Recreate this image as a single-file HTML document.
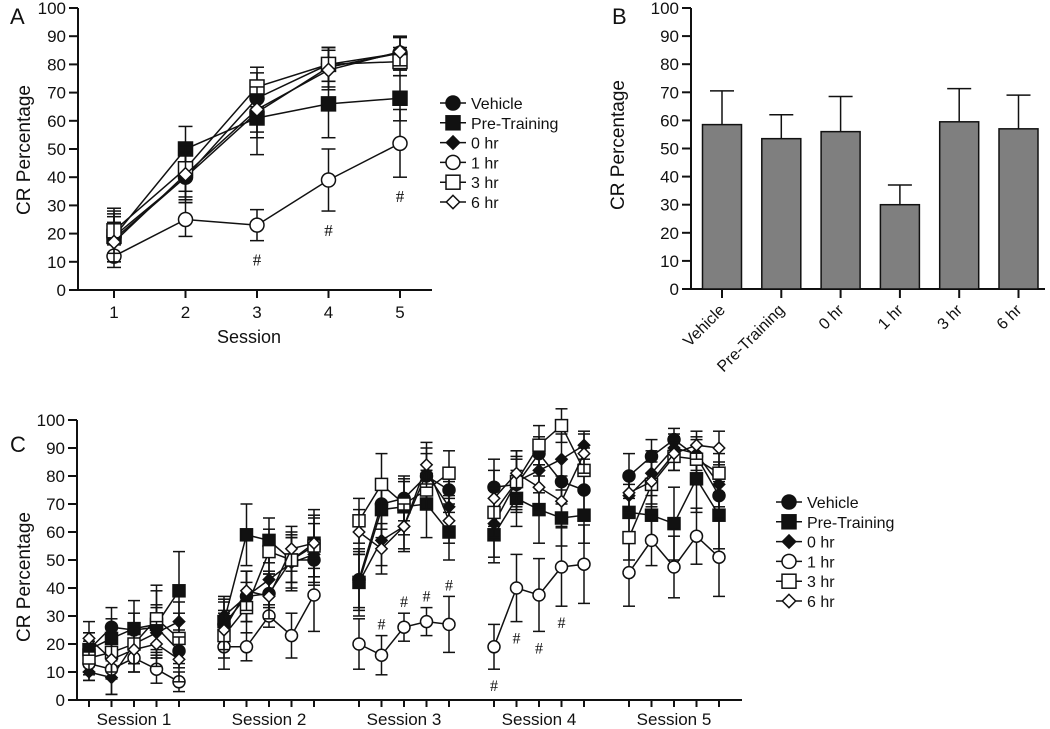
<!DOCTYPE html>
<html><head><meta charset="utf-8"><style>
html,body{margin:0;padding:0;background:#fff;}
svg{display:block;font-family:"Liberation Sans",Arial,sans-serif;}
</style></head><body>
<svg id="fig" width="1050" height="729" viewBox="0 0 1050 729" xmlns="http://www.w3.org/2000/svg"></svg>
<script>
// ---------- Data ----------
const seriesNames = ["Vehicle","Pre-Training","0 hr","1 hr","3 hr","6 hr"];
const markerTypes = ["circleF","squareF","diamondF","circleO","squareO","diamondO"];
const sessionsA = [1,2,3,4,5];
const aVehicle = [19,40,68,80,84];
const aPre     = [19,50,61,66,68];
const a0hr     = [18,40,63,79,84];
const a1hr     = [12,25,23,39,52];
const a3hr     = [21,43,72,80,81];
const a6hr     = [17,41,64,78,84.5];
const eVehicle = [8,9,9,6,6];
const ePre     = [9,8,13,12,8];
const e0hr     = [8,8,9,7,6];
const e1hr     = [4,6,5.5,11,12];
const e3hr     = [8,8,7,6,5];
const e6hr     = [7,8,8,7,5];
const hashA = [3,4,5];

const barCats = ["Vehicle","Pre-Training","0 hr","1 hr","3 hr","6 hr"];
const barVals = [58.5,53.5,56,30,59.5,57];
const barErr  = [12,8.5,12.5,7,11.8,12];

const sessionLabels = ["Session 1","Session 2","Session 3","Session 4","Session 5"];
const cVehicle = [18,26,25,26,17.5, 27,37,38,50,50, 43,70,72,80,75, 76,77,88,78,75, 80,87,93,87,73];
const cPre     = [18,22,25.5,27,39, 28,59,57,50,56, 42,68,69,70,60, 59,72,68,65,66, 67,66,63,79,66];
const c0hr     = [10,8,20,24,28, 30,37,43,49,52, 42,57,62,81,69, 63,78,82,86,91, 73,81,90,88,77];
const c1hr     = [13,11,15,11,6.5, 19,19,30,23,37.5, 20,16,26,28,27, 19,40,37.5,47.5,48.5, 45.5,57,47.5,58.5,51];
const c3hr     = [15,17,20,29,22, 23,33,53,50,55, 64,77,70,75,81, 67,78,91,98,82, 58,77,87,86,81];
const c6hr     = [22,14.5,18,20,14.5, 25,39,37,54,56, 60,54,62,84,64, 72,81,76,71,88, 74,78,88,91,90];
const ceVehicle= [6,7,6,8,6, 8,9,8,8,8, 10,9,8,8,8, 10,9,6,8,8, 8,6,4,6,8];
const cePre    = [6,7,10,12,14, 8,11,8,10,12, 12,10,10,12,10, 10,10,12,10,10, 10,10,13,12,12];
const ce0hr    = [3,6,7,9,7, 7,9,10,10,11, 10,9,9,9,9, 12,9,8,9,5, 8,8,5,6,8];
const ce1hr    = [6,9,5,5,3.5, 8,5,4,8,13, 9,7,5,5,10, 8,12,13,14,14, 12,9,11,10,14];
const ce3hr    = [6,7,7,12,9, 8,9,8,8,11, 8,11,8,7,8, 9,11,7,6,8, 8,8,5,5,7];
const ce6hr    = [6,7,8,8,8, 7,7,8,8,9, 8,9,8,8,8, 10,8,8,9,7, 7,8,6,5,6];
const hashC = [[2,1],[2,2],[2,3],[2,4],[3,0],[3,1],[3,2],[3,3]];

// ---------- helpers ----------
const NS="http://www.w3.org/2000/svg";
const svg=document.getElementById('fig');
function mk(tag,attrs,parent){const e=document.createElementNS(NS,tag);for(const k in attrs)e.setAttribute(k,attrs[k]);(parent||svg).appendChild(e);return e;}
function txt(x,y,s,size,anchor,parent,extra){const t=mk('text',Object.assign({x:x,y:y,'font-size':size,'text-anchor':anchor||'middle',fill:'#111'},extra||{}),parent);t.textContent=s;return t;}
function marker(g,type,x,y,s){
  const fill=type.endsWith('F')?'#111':'#fff';
  let e;
  if(type.startsWith('circle')) e=mk('circle',{cx:x,cy:y,r:s,fill:fill,stroke:'#111','stroke-width':1.5},g);
  else if(type.startsWith('square')) e=mk('rect',{x:x-s,y:y-s,width:2*s,height:2*s,fill:fill,stroke:'#111','stroke-width':1.5},g);
  else { const d=s*0.95; e=mk('polygon',{points:`${x},${y-d} ${x+d},${y} ${x},${y+d} ${x-d},${y}`,fill:fill,stroke:'#111','stroke-width':1.5},g); }
  return e;
}
function yAxis(g,x,yf,tickLen){
  mk('line',{x1:x,y1:yf(0),x2:x,y2:yf(100),stroke:'#111','stroke-width':2},g);
  for(let v=0;v<=100;v+=10){
    mk('line',{x1:x-tickLen,y1:yf(v),x2:x,y2:yf(v),stroke:'#111','stroke-width':2},g);
    txt(x-tickLen-3,yf(v)+6,String(v),17,'end',g);
  }
}
function drawSeries(g,xs,vals,errs,type,yf,ms,cap,groupSize){
  const s=mk('g',{},g);
  
  
  let d='';
  vals.forEach((v,i)=>{ const start = i===0 || (groupSize && i%groupSize===0); d+=(start?' M':' L')+xs[i]+','+yf(v);});
  mk('path',{d:d.trim(),fill:'none',stroke:'#111','stroke-width':1.5},s);
  vals.forEach((v,i)=>{
    const x=xs[i],y1=yf(v+errs[i]),y2=yf(v-errs[i]);
    mk('line',{x1:x,y1:y1,x2:x,y2:y2,stroke:'#111','stroke-width':1.5},s);
    mk('line',{x1:x-cap,y1:y1,x2:x+cap,y2:y1,stroke:'#111','stroke-width':1.5},s);
    mk('line',{x1:x-cap,y1:y2,x2:x+cap,y2:y2,stroke:'#111','stroke-width':1.5},s);
  });
  vals.forEach((v,i)=>{ const m=marker(s,type,xs[i],yf(v),ms);
    
    
  });
}
function legend(g,x,y0,step){
  seriesNames.forEach((n,i)=>{
    const e=mk('g',{},g);
    
    
    const y=y0+i*step;
    mk('line',{x1:x-13,y1:y,x2:x+13,y2:y,stroke:'#111','stroke-width':1.5},e);
    marker(e,markerTypes[i],x,y,7);
    txt(x+18,y+6,n,16,'start',e);
  });
}

// ---------- Panel A ----------
const gA=mk('g',{});  
const yA=v=>290-v*2.82;
const xA=s=>114+(s-1)*71.5;
txt(10,24,'A',22,'start',gA);
yAxis(gA,78,yA,9);
mk('line',{x1:70,y1:290,x2:432,y2:290,stroke:'#111','stroke-width':2},gA);
sessionsA.forEach(s=>{mk('line',{x1:xA(s),y1:290,x2:xA(s),y2:298,stroke:'#111','stroke-width':2},gA);txt(xA(s),318,String(s),17,'middle',gA);});
const xlA=txt(249,343,'Session',18,'middle',gA);  
const ylA=txt(0,0,'CR Percentage',19,'middle',gA,{transform:'translate(30,150) rotate(-90)'});  
const xsA=sessionsA.map(xA);
const aVals=[aVehicle,aPre,a0hr,a1hr,a3hr,a6hr], aErr=[eVehicle,ePre,e0hr,e1hr,e3hr,e6hr];
aVals.forEach((v,i)=>drawSeries(gA,xsA,v,aErr[i],markerTypes[i],yA,7,7,0));
hashA.forEach(s=>{const i=s-1;const t=txt(xA(s),yA(a1hr[i]-e1hr[i])+25,'#',17,'middle',gA,{'font-family':'Liberation Serif, serif'});});
const lgA=mk('g',{},gA);  
legend(lgA,453,103,19.8);

// ---------- Panel B ----------
const gB=mk('g',{});  
const yB=v=>289-v*2.81;
const xB=i=>722+i*59.3;
txt(612,24,'B',22,'start',gB);
yAxis(gB,691,yB,9);
mk('line',{x1:683,y1:289,x2:1045,y2:289,stroke:'#111','stroke-width':2},gB);
const ylB=txt(0,0,'CR Percentage',19,'middle',gB,{transform:'translate(624,145) rotate(-90)'});  
barCats.forEach((c,i)=>{
  const x=xB(i);
  mk('line',{x1:x,y1:yB(barVals[i]),x2:x,y2:yB(barVals[i]+barErr[i]),stroke:'#111','stroke-width':1.5},gB);
  mk('line',{x1:x-12,y1:yB(barVals[i]+barErr[i]),x2:x+12,y2:yB(barVals[i]+barErr[i]),stroke:'#111','stroke-width':1.5},gB);
  const r=mk('rect',{x:x-19.5,y:yB(barVals[i]),width:39,height:yB(0)-yB(barVals[i]),fill:'#7f7f7f',stroke:'#111','stroke-width':1.5},gB);
  
  
  mk('line',{x1:x,y1:289,x2:x,y2:298,stroke:'#111','stroke-width':2},gB);
  txt(0,0,c,16,'end',gB,{transform:`translate(${x+4},${311}) rotate(-45)`});
});

// ---------- Panel C ----------
const gC=mk('g',{});  
const yC=v=>700-v*2.8;
const xC=k=>89+Math.floor(k/5)*135+(k%5)*22.5;
txt(10,452,'C',22,'start',gC);
yAxis(gC,77,yC,9);
mk('line',{x1:69,y1:700,x2:742,y2:700,stroke:'#111','stroke-width':2},gC);
const xsC=cVehicle.map((_,k)=>xC(k));
xsC.forEach(x=>mk('line',{x1:x,y1:700,x2:x,y2:707,stroke:'#111','stroke-width':2},gC));
sessionLabels.forEach((s,b)=>{const t=txt(xC(b*5+2),725,s,17,'middle',gC);});
const ylC=txt(0,0,'CR Percentage',19,'middle',gC,{transform:'translate(30,577) rotate(-90)'});  
const cVals=[cVehicle,cPre,c0hr,c1hr,c3hr,c6hr], cErr=[ceVehicle,cePre,ce0hr,ce1hr,ce3hr,ce6hr];
cVals.forEach((v,i)=>drawSeries(gC,xsC,v,cErr[i],markerTypes[i],yC,6,6,5));
hashC.forEach(([b,p])=>{const k=b*5+p;const above=(b===2);
  const y=above?yC(c1hr[k]+ce1hr[k])-6:yC(c1hr[k]-ce1hr[k])+22;
  const t=txt(xC(k),y,'#',16,'middle',gC,{'font-family':'Liberation Serif, serif'});});
const lgC=mk('g',{},gC);  
legend(lgC,789,502,19.8);
</script>
</body></html>
